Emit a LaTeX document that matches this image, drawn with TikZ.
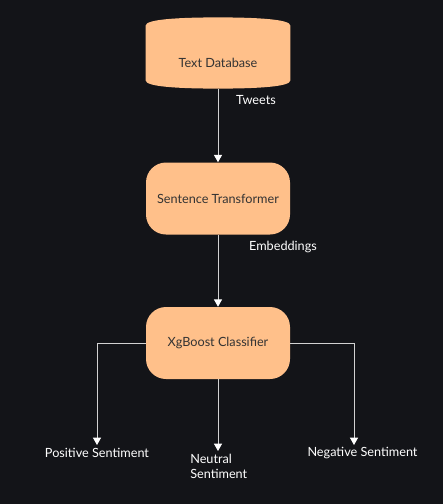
\documentclass[tikz,border=0pt]{standalone}
\usepackage{fontspec}
\setmainfont{Lato}
\usetikzlibrary{arrows.meta}
\definecolor{bgdark}{RGB}{19,20,24}
\definecolor{peach}{RGB}{255,192,138}
\definecolor{boxtext}{RGB}{51,51,51}
\definecolor{wire}{RGB}{210,210,210}

\begin{document}
\begin{tikzpicture}[x=0.75pt,y=0.75pt,yscale=-1,xscale=1,
  procbox/.style={fill=peach,text=boxtext,rounded corners=15pt,minimum width=108pt,minimum height=54pt,inner sep=0pt,font=\fontsize{9.5}{11}\selectfont},
  dbtext/.style={text=boxtext,minimum width=108pt,minimum height=53pt,inner sep=0pt,font=\fontsize{9.5}{11}\selectfont},
  flow/.style={draw=wire,line width=0.75pt,-{Triangle[width=6pt,length=5.5pt,fill=white,color=white]}},
  wirelabel/.style={text=white,inner sep=0pt,font=\fontsize{9.5}{11}\selectfont},
  outlabel/.style={text=white,inner sep=0pt,align=left,font=\fontsize{9.5}{11.25}\selectfont}]
%set diagram size
\fill[bgdark] (0,0) rectangle (443,504);
\useasboundingbox (0,0) rectangle (443,504);

%Shape: Can
\node[dbtext] (db) at (218,53) {};
\fill[peach] ([yshift=6pt]db.north west) .. controls ([yshift=1.5pt]db.north west) and ([xshift=-30pt]db.north) .. (db.north) .. controls ([xshift=30pt]db.north) and ([yshift=1.5pt]db.north east) .. ([yshift=6pt]db.north east) -- ([yshift=-6pt]db.south east) .. controls ([yshift=-1.5pt]db.south east) and ([xshift=30pt]db.south) .. (db.south) .. controls ([xshift=-30pt]db.south) and ([yshift=-1.5pt]db.south west) .. ([yshift=-6pt]db.south west) -- cycle ;
\node[text=boxtext,inner sep=0pt,font=\fontsize{9.5}{11}\selectfont] (dblabel) at (218,63) {Text Database};

%Shape: Rounded boxes
\node[procbox] (st) at (218,198.5) {Sentence Transformer};
\node[procbox] (xgb) at (218,343) {XgBoost Classifier};

%Arrow ends
\coordinate (posend) at (97,445);
\coordinate (neuend) at (218,451);
\coordinate (negend) at (354,445);

%Connectors
\draw[flow] (db.south) -- (st.north);
\draw[flow] (st.south) -- (xgb.north);
\draw[flow] (xgb.west) -| (posend);
\draw[flow] (xgb.south) -- (neuend);
\draw[flow] (xgb.east) -| (negend);

% Text Node
\node[wirelabel] (tweets) at (256,100) {Tweets};
\node[wirelabel] (emb) at (283,247) {Embeddings};
\node[outlabel] (pos) at (97,453) {Positive Sentiment};
\node[outlabel,anchor=north west] (neu) at (190,454) {Neutral\\Sentiment};
\node[outlabel] (neg) at (362.5,453) {Negative Sentiment};

\end{tikzpicture}
\end{document}
